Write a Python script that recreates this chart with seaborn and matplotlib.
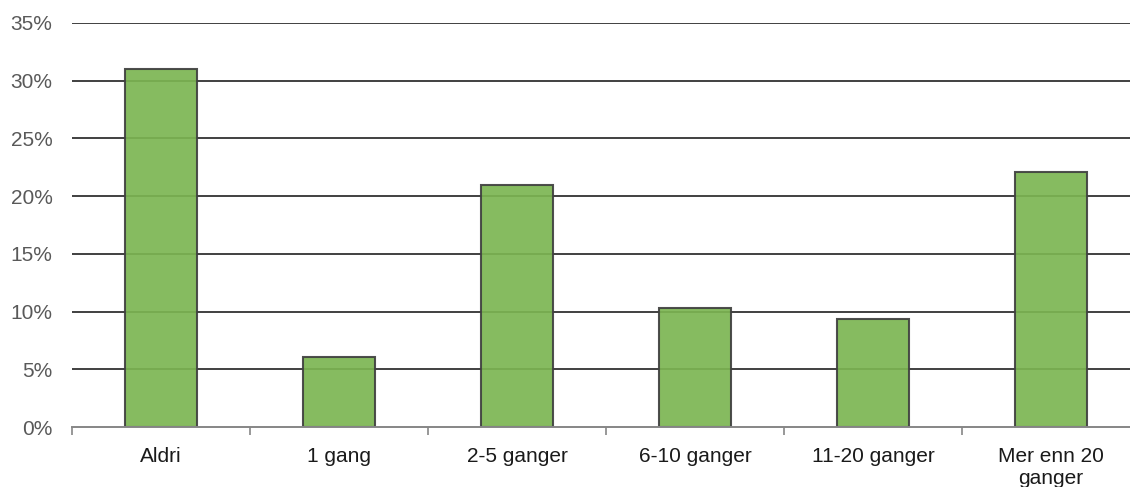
import matplotlib
matplotlib.use("Agg")
import matplotlib.pyplot as plt
import seaborn as sns
import pandas as pd
import numpy as np
from matplotlib.ticker import FixedLocator, PercentFormatter

categories = ["Aldri", "1 gang", "2-5 ganger", "6-10 ganger", "11-20 ganger", "Mer enn 20\nganger"]
values = [31.0, 6.1, 21.0, 10.3, 9.4, 22.1]
y_ticks = [0, 5, 10, 15, 20, 25, 30, 35]

sns.set_style("white")
plt.rcParams["font.family"] = ["Liberation Sans", "DejaVu Sans"]

df = pd.DataFrame({"kategori": categories, "andel": values})

fig = plt.figure(figsize=(11.3, 4.87), dpi=100, facecolor="white")
# plot area runs a bit past the right edge, like the source chart
ax = fig.add_axes([72 / 1130, 0.123, (1140 - 72) / 1130, 0.830])

# grid first, bars on top (slightly see-through like the original)
for t in y_ticks[1:]:
    ax.axhline(t, color="#404040", linewidth=1.4, zorder=0)

sns.barplot(data=df, x="kategori", y="andel", color="#7cb552", width=0.405,
            edgecolor="#404040", linewidth=1.5, saturation=1, alpha=0.92, ax=ax, zorder=2)

ax.set_xlim(-0.5, len(categories) - 0.5)
ax.set_ylim(0, 35)
ax.set_yticks(y_ticks)
ax.yaxis.set_major_formatter(PercentFormatter(decimals=0))
ax.set_xlabel("")
ax.set_ylabel("")

for s in ["top", "right", "left"]:
    ax.spines[s].set_visible(False)
ax.spines["bottom"].set_color("#868686")
ax.spines["bottom"].set_linewidth(1.4)

ax.xaxis.set_minor_locator(FixedLocator(np.arange(-0.5, len(categories), 1.0)))
ax.tick_params(axis="x", which="minor", length=6, width=1.2, color="#868686", direction="out", bottom=True)
ax.tick_params(axis="x", which="major", length=0, pad=14, labelsize=15, labelcolor="#1a1a1a")
ax.tick_params(axis="y", length=0, pad=14, labelsize=15, labelcolor="#595959")

fig.savefig("out.png", dpi=100, facecolor="white")
